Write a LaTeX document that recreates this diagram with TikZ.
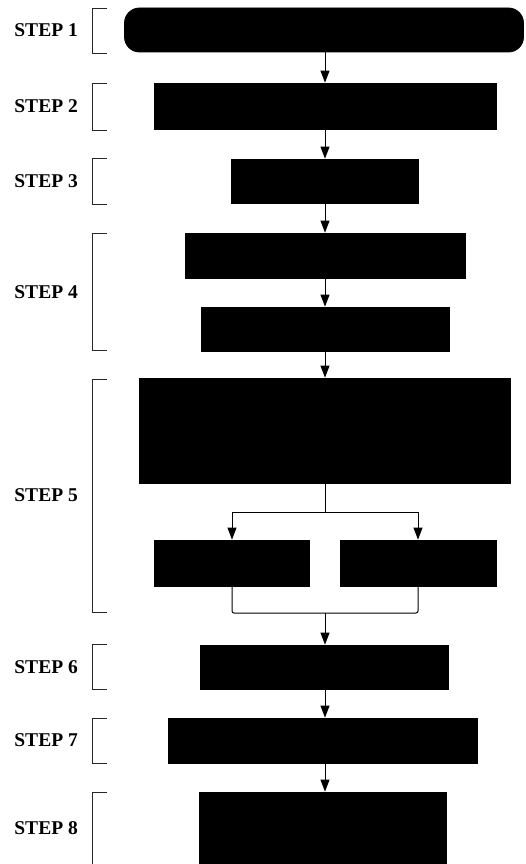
\documentclass[tikz,border=0pt]{standalone}
\usepackage{fontspec}
\setmainfont{Liberation Serif}
\usetikzlibrary{arrows.meta}
\begin{document}
\begin{tikzpicture}[x=1pt,y=-1pt,
  blk/.style={draw=black,fill=black,line width=0.8pt,inner sep=0pt},
  flow/.style={line width=1pt,-{Triangle[length=12pt,width=9pt]}},
  link/.style={line width=1pt},
  brace/.style={line width=0.9pt,draw=black!85},
  steplabel/.style={anchor=east,inner sep=0pt,font=\fontsize{19.5}{19.5}\selectfont\bfseries}]
\useasboundingbox (0,0) rectangle (526,864);
\begin{scope}
\clip (0,0) rectangle (526,864);

% process boxes
\node[blk,rounded corners=15pt,minimum width=399pt,minimum height=44pt] (s1) at (324,30) {};
\node[blk,minimum width=342pt,minimum height=46pt] (s2) at (325,106) {};
\node[blk,minimum width=187pt,minimum height=44pt] (s3) at (325,181) {};
\node[blk,minimum width=280pt,minimum height=45pt] (s4a) at (325,255.5) {};
\node[blk,minimum width=248pt,minimum height=44pt] (s4b) at (325,329) {};
\node[blk,minimum width=371pt,minimum height=105pt] (s5) at (325,430.5) {};
\node[blk,minimum width=155pt,minimum height=46pt] (s5l) at (232,563) {};
\node[blk,minimum width=156pt,minimum height=46pt] (s5r) at (418,563) {};
\node[blk,minimum width=248pt,minimum height=44pt] (s6) at (324,667) {};
\node[blk,minimum width=309pt,minimum height=45pt] (s7) at (323,740.5) {};
\node[blk,minimum width=247pt,minimum height=100pt] (s8) at (323,842) {};

% branching points
\coordinate (split) at (325,512);
\coordinate (merge) at (325,613);

% connectors
\draw[flow] (s1.south -| s2.north) -- (s2.north);
\draw[flow] (s2) -- (s3);
\draw[flow] (s3) -- (s4a);
\draw[flow] (s4a) -- (s4b);
\draw[flow] (s4b) -- (s5);
\draw[link] (s5.south) -- (split);
\draw[flow] (split) -| (s5l.north);
\draw[flow] (split) -| (s5r.north);
\draw[link,rounded corners=2pt] (s5l.south) |- (merge) -| (s5r.south);
\draw[flow] (merge) -- (merge |- s6.north);
\draw[flow] (s6.south -| merge) -- (merge |- s7.north);
\draw[flow] (s7.south -| merge) -- (merge |- s8.north);

% step brackets
\foreach \name/\ya/\yb in {b1/8/53, b2/83/130, b3/158/204, b4/233/350,
                            b5/379/612, b6/644/689, b7/718/763, b8/792/880} {
  \coordinate (\name t) at (107,\ya);
  \coordinate (\name b) at (107,\yb);
  \draw[brace] (\name t) -- ++(-15,0) |- (\name b);
}
\end{scope}

% step labels
\node[steplabel] (l1) at (78,30) {STEP 1};
\node[steplabel] (l2) at (78,106) {STEP 2};
\node[steplabel] (l3) at (78,181) {STEP 3};
\node[steplabel] (l4) at (78,292) {STEP 4};
\node[steplabel] (l5) at (78,495) {STEP 5};
\node[steplabel] (l6) at (78,667) {STEP 6};
\node[steplabel] (l7) at (78,740) {STEP 7};
\node[steplabel] (l8) at (78,828) {STEP 8};
\end{tikzpicture}
\end{document}
